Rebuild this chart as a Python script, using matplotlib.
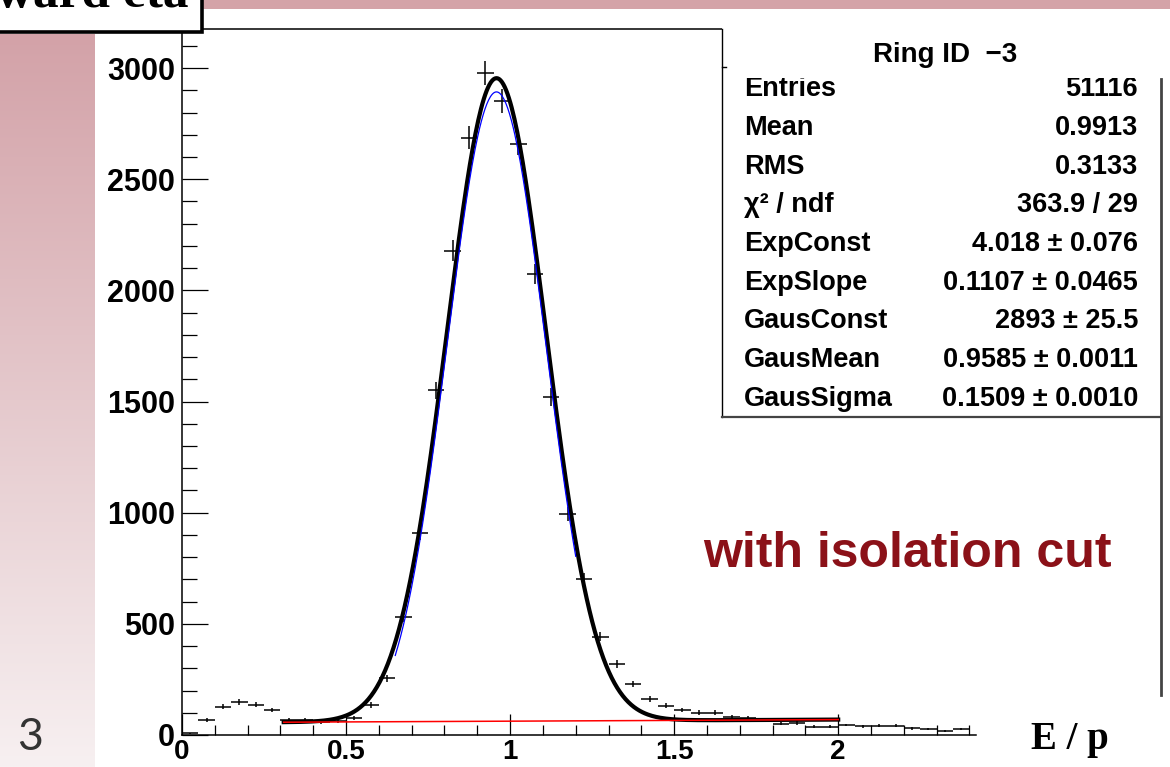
import numpy as np
import matplotlib
matplotlib.use("Agg")
import matplotlib.pyplot as plt
from matplotlib.patches import Rectangle
from matplotlib.lines import Line2D
from matplotlib.ticker import MultipleLocator, FixedLocator, FixedFormatter

# histogram: E/p, bins of 0.05 starting at 0
bin_width = 0.05
counts = [8, 68, 128, 149, 137, 112, 69, 67, 58, 62,
          75, 135, 255, 531, 909, 1550, 2178, 2687, 2977, 2853,
          2660, 2075, 1521, 996, 701, 442, 320, 230, 161, 131,
          113, 101, 101, 80, 75, 68, 50, 54, 38, 38,
          45, 39, 42, 42, 30, 27, 20, 27]

# fit parameters (from the stats box)
exp_const, exp_slope = 4.018, 0.1107
gaus_const, gaus_mean, gaus_sigma = 2893, 0.9585, 0.1509
fit_range = (0.31, 2.0)
gaus_range = (0.65, 1.2)

stat_names = ["Entries", "Mean", "RMS", "\u03c7\u00b2 / ndf", "ExpConst", "ExpSlope",
              "GausConst", "GausMean", "GausSigma"]
stat_values = ["51116", "0.9913", "0.3133", "363.9 / 29", "4.018 \u00b1 0.076",
               "0.1107 \u00b1 0.0465", "2893 \u00b1 25.5", "0.9585 \u00b1 0.0011",
               "0.1509 \u00b1 0.0010"]

x_ticks = [0, 0.5, 1, 1.5, 2]
x_ticklabels = ["0", "0.5", "1", "1.5", "2"]
y_ticks = [0, 500, 1000, 1500, 2000, 2500, 3000]
y_ticklabels = ["0", "500", "1000", "1500", "2000", "2500", "3000"]

W, H = 1170, 767
def fx(px):
    return px / W
def fy(py):
    return 1 - py / H

plt.rcParams['font.family'] = ['Liberation Sans', 'DejaVu Sans']
fig = plt.figure(figsize=(11.7, 7.67), dpi=100, facecolor="white")

# slide decoration: gradient strip on the left, pink band on top
grad_ax = fig.add_axes([0, 0, fx(95), fy(34)])
top_col = np.array([211, 162, 168]) / 255
bot_col = np.array([247, 240, 241]) / 255
t = np.linspace(0, 1, 256)[:, None, None]
grad = top_col * (1 - t) + bot_col * t
grad_ax.imshow(np.repeat(grad, 2, axis=1), aspect="auto", extent=[0, 1, 0, 1])
grad_ax.axis("off")
fig.patches.append(Rectangle((0, fy(9)), 1, 9 / H, transform=fig.transFigure,
                             facecolor="#d4a3a8", edgecolor="none", zorder=0.5))

ax = fig.add_axes([fx(182), fy(735), fx(976) - fx(182), fy(29) - fy(735)])
centers = np.arange(len(counts)) * bin_width + bin_width / 2
cnt = np.array(counts, dtype=float)
ax.errorbar(centers, cnt, xerr=bin_width / 2, yerr=np.sqrt(cnt), fmt="none",
            ecolor="black", elinewidth=1.1, capsize=0, zorder=2)

xf = np.linspace(*fit_range, 400)
bkg = np.exp(exp_const + exp_slope * xf)
total = bkg + gaus_const * np.exp(-0.5 * ((xf - gaus_mean) / gaus_sigma) ** 2)
ax.plot(xf, total, color="black", lw=3.0, zorder=3)
xg = np.linspace(*gaus_range, 200)
ax.plot(xg, gaus_const * np.exp(-0.5 * ((xg - gaus_mean) / gaus_sigma) ** 2),
        color="#0000ff", lw=0.9, zorder=4)
ax.plot(xf, bkg, color="#ff0000", lw=1.1, zorder=4)

ax.set_xlim(0, 2.42)
ax.set_ylim(0, 3176)
ax.xaxis.set_major_locator(FixedLocator(x_ticks))
ax.xaxis.set_major_formatter(FixedFormatter(x_ticklabels))
ax.xaxis.set_minor_locator(MultipleLocator(0.1))
ax.yaxis.set_major_locator(FixedLocator(y_ticks))
ax.yaxis.set_major_formatter(FixedFormatter(y_ticklabels))
ax.yaxis.set_minor_locator(MultipleLocator(100))
ax.tick_params(axis="both", which="both", direction="in", width=0.9, colors="black")
ax.tick_params(axis="y", which="major", length=19, pad=5, labelsize=22)
ax.tick_params(axis="y", which="minor", length=11)
ax.tick_params(axis="x", which="major", length=15, pad=3, labelsize=20)
ax.tick_params(axis="x", which="minor", length=7)
for lab in ax.get_xticklabels() + ax.get_yticklabels():
    lab.set_fontweight("bold")
ax.spines["right"].set_visible(False)
for s in ["left", "bottom", "top"]:
    ax.spines[s].set_linewidth(1.1)

fig.text(fx(1070), fy(749), "E / p", family="Liberation Serif", weight="bold",
         fontsize=28, ha="center", va="baseline")

# stats box
fig.patches.append(Rectangle((fx(722), fy(417)), fx(1161) - fx(722), fy(12) - fy(417),
                             transform=fig.transFigure, facecolor="white",
                             edgecolor="none", zorder=5))
fig.lines.append(Line2D([fx(722), fx(722)], [fy(29), fy(417)], transform=fig.transFigure,
                        color="black", lw=1.0, zorder=8))
fig.lines.append(Line2D([fx(722), fx(726)], [fy(67), fy(67)], transform=fig.transFigure,
                        color="black", lw=1.0, zorder=8))
fig.lines.append(Line2D([fx(722), fx(1161)], [fy(417), fy(417)], transform=fig.transFigure,
                        color="#444444", lw=1.6, zorder=8))
fig.lines.append(Line2D([fx(1161), fx(1161)], [fy(79), fy(695)], transform=fig.transFigure,
                        color="#444444", lw=2.0, zorder=8))
for i, (name, val) in enumerate(zip(stat_names, stat_values)):
    yb = fy(96 + i * 38.75)
    fig.text(fx(744), yb, name, fontsize=19.5, weight="bold", ha="left", va="baseline", zorder=6)
    fig.text(fx(1138), yb, val, fontsize=19.5, weight="bold", ha="right", va="baseline", zorder=6)
fig.patches.append(Rectangle((fx(724), fy(78)), fx(1160) - fx(724), fy(30) - fy(78),
                             transform=fig.transFigure, facecolor="white",
                             edgecolor="none", zorder=7))
fig.text(fx(945), fy(62), "Ring ID  \u22123", fontsize=20, weight="bold",
         ha="center", va="baseline", zorder=9)

fig.text(fx(703), fy(567), "with isolation cut", fontsize=36, weight="bold",
         color="#8b1118", ha="left", va="baseline")

# slide title box (cut off at the top) and slide number
fig.patches.append(Rectangle((fx(-10), fy(32)), fx(202) - fx(-10), 50 / H,
                             transform=fig.transFigure, facecolor="white",
                             edgecolor="black", lw=2.6, zorder=10))
fig.text(fx(188), fy(7), "Forward eta", family="Liberation Serif", weight="bold",
         fontsize=37, ha="right", va="baseline", zorder=11)
fig.text(fx(30), fy(750), "3", family="Lato", fontsize=32,
         color="#333333", ha="center", va="baseline")

fig.savefig("out.png", dpi=100, facecolor="white")
